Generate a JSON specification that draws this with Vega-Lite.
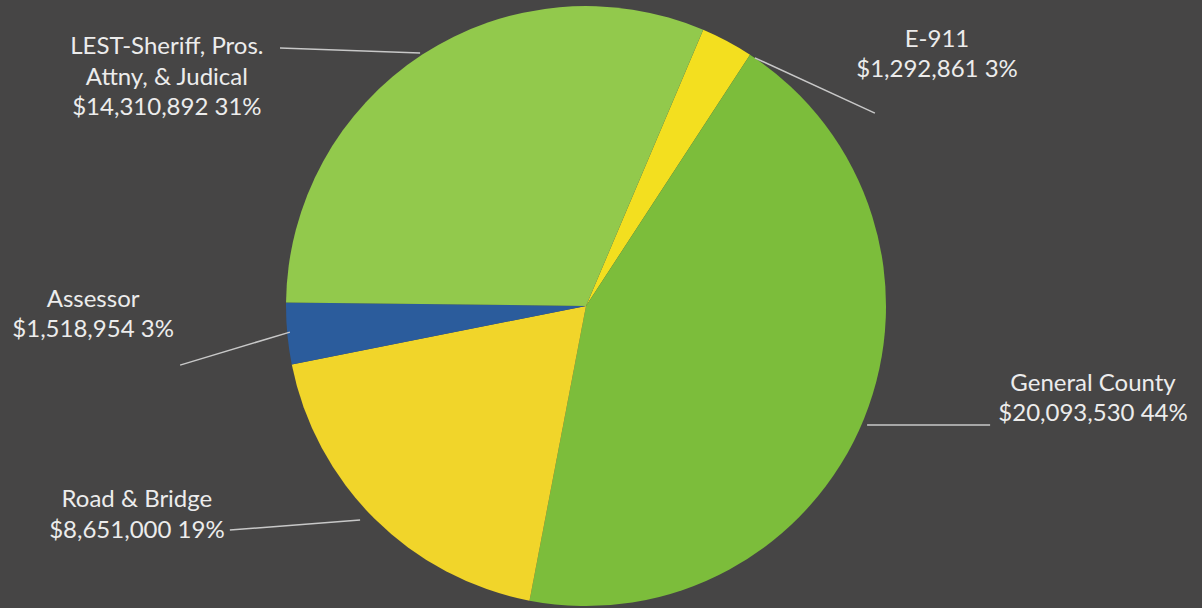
{
  "$schema": "https://vega.github.io/schema/vega-lite/v6.json",
  "width": 1202,
  "height": 608,
  "autosize": {"type": "fit", "contains": "padding"},
  "padding": 0,
  "background": "#464545",
  "config": {"view": {"stroke": null}},
  "datasets": {
    "slices": [
      {"category": "E-911", "amount": 1292861, "order": 1},
      {"category": "General County", "amount": 20093530, "order": 2},
      {"category": "Road & Bridge", "amount": 8651000, "order": 3},
      {"category": "Assessor", "amount": 1518954, "order": 4},
      {"category": "LEST-Sheriff, Pros. Attny, & Judical", "amount": 14310892, "order": 5}
    ],
    "labels": [
      {"label": "LEST-Sheriff, Pros.\nAttny, & Judical\n$14,310,892 31%", "lx": -1.397, "ly": 0.863, "x1": -1.02, "y1": 0.86, "x2": -0.553, "y2": 0.843},
      {"label": "E-911\n$1,292,861 3%", "lx": 1.17, "ly": 0.887, "x1": 0.563, "y1": 0.827, "x2": 0.963, "y2": 0.643},
      {"label": "Assessor\n$1,518,954 3%", "lx": -1.643, "ly": 0.02, "x1": -1.353, "y1": -0.197, "x2": -0.987, "y2": -0.087},
      {"label": "General County\n$20,093,530 44%", "lx": 1.69, "ly": -0.26, "x1": 0.937, "y1": -0.397, "x2": 1.347, "y2": -0.397},
      {"label": "Road & Bridge\n$8,651,000 19%", "lx": -1.497, "ly": -0.647, "x1": -1.187, "y1": -0.747, "x2": -0.753, "y2": -0.713}
    ]
  },
  "layer": [
    {
      "data": {"name": "slices"},
      "mark": {"type": "arc", "outerRadius": 300},
      "encoding": {
        "x": {"datum": 0, "type": "quantitative", "scale": {"domain": [-1.9533, 2.0533], "nice": false, "zero": false}, "axis": null},
        "y": {"datum": 0, "type": "quantitative", "scale": {"domain": [-1.0067, 1.02], "nice": false, "zero": false}, "axis": null},
        "theta": {"field": "amount", "type": "quantitative", "stack": true, "scale": {"range": [0.4014, 6.6846]}},
        "order": {"field": "order", "type": "quantitative"},
        "color": {
          "field": "category", "type": "nominal", "legend": null,
          "scale": {
            "domain": ["E-911", "General County", "Road & Bridge", "Assessor", "LEST-Sheriff, Pros. Attny, & Judical"],
            "range": ["#f3df1f", "#7cbd3b", "#f1d52a", "#2b5c9c", "#92c94c"]
          }
        }
      }
    },
    {
      "data": {"name": "labels"},
      "mark": {"type": "rule", "color": "#c8c8c8", "strokeWidth": 1.5},
      "encoding": {
        "x": {"field": "x1", "type": "quantitative"},
        "y": {"field": "y1", "type": "quantitative"},
        "x2": {"field": "x2"},
        "y2": {"field": "y2"}
      }
    },
    {
      "data": {"name": "labels"},
      "mark": {"type": "text", "font": "Lato", "fontSize": 24, "color": "#ececec", "align": "center", "baseline": "middle", "lineBreak": "\n", "lineHeight": 30.5},
      "encoding": {
        "x": {"field": "lx", "type": "quantitative"},
        "y": {"field": "ly", "type": "quantitative"},
        "text": {"field": "label"}
      }
    }
  ]
}
